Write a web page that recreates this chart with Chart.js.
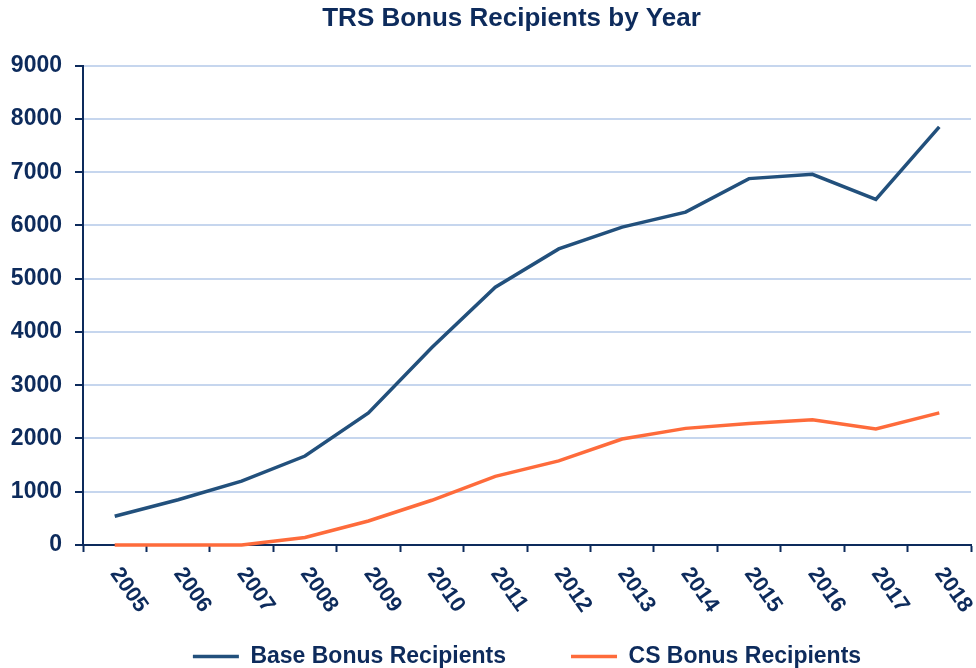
<!DOCTYPE html>
<html lang="en">
<head>
  <meta charset="UTF-8">
  <title>TRS Bonus Recipients by Year</title>
  <script src="https://cdn.jsdelivr.net/npm/chart.js"></script>
  <style>
    body {
      margin: 0;
      background: #fff;
      overflow: hidden;
    }
    canvas {
      display: block;
    }
  </style>
</head>
<body>
  <canvas id="bonusChart" width="976" height="668"></canvas>

<script>
  // data
  const years = ['2005', '2006', '2007', '2008', '2009', '2010', '2011', '2012', '2013', '2014', '2015', '2016', '2017', '2018'];
  const baseRecipients = [540, 850, 1200, 1670, 2480, 3710, 4840, 5560, 5970, 6250, 6880, 6960, 6490, 7850];
  const csRecipients = [0, 0, 0, 140, 450, 840, 1290, 1580, 1990, 2190, 2280, 2350, 2180, 2480];
  const yTickValues = [0, 1000, 2000, 3000, 4000, 5000, 6000, 7000, 8000, 9000];

  const navy = '#0d2b5c';
  const gridBlue = '#c6d6ee';
  const fontFamily = '"Liberation Sans", Arial, sans-serif';

  // year labels run downwards to the right, which Chart.js can't do on its own.
  // also nudge the title box so its centre sits where the original has it
  const yearLabelsAndTitle = {
    id: 'yearLabelsAndTitle',
    afterLayout(chart) {
      if (chart.titleBlock) chart.titleBlock.left = 52;
    },
    afterDraw(chart) {
      const xScale = chart.scales.x;
      const ctx = chart.ctx;
      ctx.save();
      ctx.font = 'bold 22px ' + fontFamily;
      ctx.fillStyle = navy;
      ctx.textAlign = 'left';
      ctx.textBaseline = 'middle';
      years.forEach((yr, i) => {
        ctx.save();
        ctx.translate(xScale.getPixelForTick(i), xScale.top + 25);
        ctx.rotate(55 * Math.PI / 180);
        ctx.fillText(yr, 0, 0);
        ctx.restore();
      });
      ctx.restore();
    }
  };

  const ctx = document.getElementById('bonusChart').getContext('2d');
  new Chart(ctx, {
    type: 'line',
    data: {
      labels: years,
      datasets: [
        {
          label: 'Base Bonus Recipients',
          data: baseRecipients,
          borderColor: '#22507c',
          backgroundColor: '#22507c',
          borderWidth: 3.5,
          pointRadius: 0,
          tension: 0,
          clip: false
        },
        {
          label: 'CS Bonus Recipients',
          data: csRecipients,
          borderColor: '#fe6b3b',
          backgroundColor: '#fe6b3b',
          borderWidth: 3.5,
          pointRadius: 0,
          tension: 0,
          clip: false
        }
      ]
    },
    options: {
      responsive: false,
      animation: false,
      layout: {
        padding: { left: 0, right: 5, top: 0, bottom: 0 }
      },
      scales: {
        x: {
          offset: true,
          grid: {
            offset: true,
            drawOnChartArea: false,
            drawTicks: true,
            tickLength: 7,
            tickColor: navy,
            tickWidth: 2
          },
          border: { color: navy, width: 2 },
          ticks: { display: false },
          afterFit: (scale) => { scale.height = 35; }
        },
        y: {
          min: 0,
          max: 9000,
          afterBuildTicks: (scale) => {
            scale.ticks = yTickValues.map(v => ({ value: v }));
          },
          grid: {
            color: (c) => c.tick && c.tick.value === 0 ? navy : gridBlue,
            lineWidth: 2,
            drawTicks: true,
            tickLength: 8,
            tickColor: navy,
            tickWidth: 2
          },
          border: { color: navy, width: 2 },
          ticks: {
            padding: 13,
            color: navy,
            font: { family: fontFamily, size: 23, weight: 'bold' },
            callback: (v) => String(v)
          },
          afterFit: (scale) => { scale.width = 83; }
        }
      },
      plugins: {
        title: {
          display: true,
          text: 'TRS Bonus Recipients by Year',
          color: navy,
          font: { family: fontFamily, size: 26, weight: 'bold' },
          padding: { top: 3.5, bottom: 31 }
        },
        legend: {
          position: 'bottom',
          fullSize: false,
          maxHeight: 88,
          labels: {
            color: navy,
            font: { family: fontFamily, size: 23, weight: 'bold' },
            boxWidth: 46,
            boxHeight: 0,
            padding: 65
          }
        },
        tooltip: { enabled: false }
      }
    },
    plugins: [yearLabelsAndTitle]
  });
</script>
</body>
</html>
